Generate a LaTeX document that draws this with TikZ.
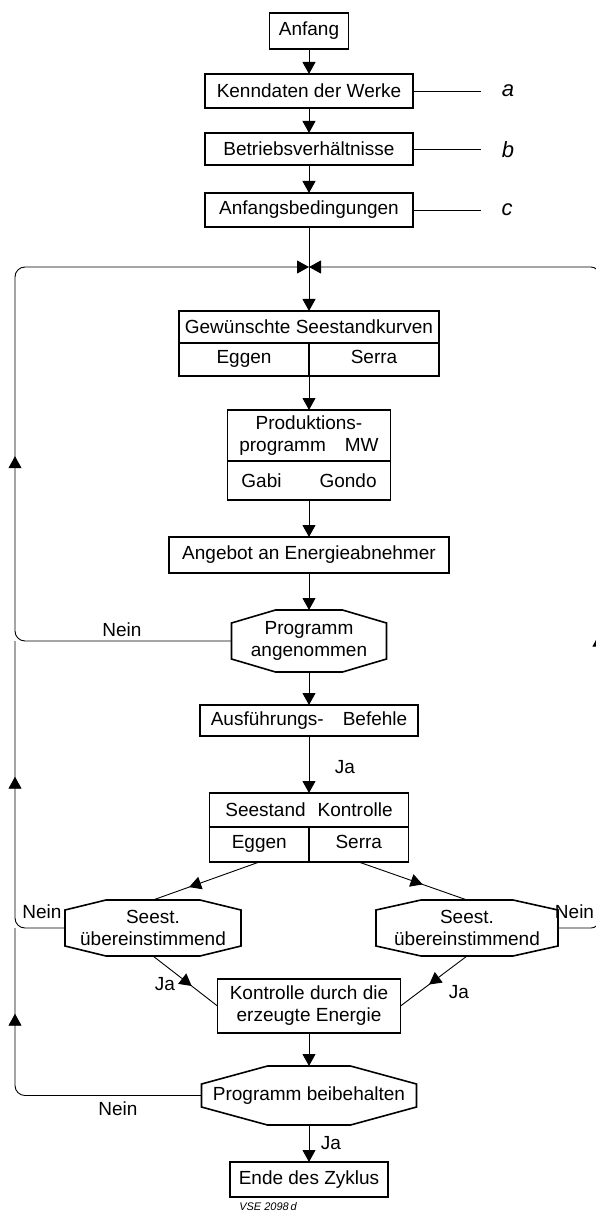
\documentclass[tikz,border=0pt]{standalone}
\usepackage{fontspec}
\setmainfont{Liberation Sans}
\usepackage{tikz}
\usetikzlibrary{arrows.meta}
\usetikzlibrary{positioning}
\usetikzlibrary{decorations.markings}

% outline of a decision node: node, chamfer x, chamfer y
\newcommand{\drawoctagon}[3]{%
  \draw[decisionline]
    ([xshift=#2]#1.north west) -- ([xshift=-#2]#1.north east)
    -- ([yshift=-#3]#1.north east) -- ([yshift=#3]#1.south east)
    -- ([xshift=-#2]#1.south east) -- ([xshift=#2]#1.south west)
    -- ([yshift=#3]#1.south west) -- ([yshift=-#3]#1.north west)
    -- cycle;}

\begin{document}
\begin{tikzpicture}[x=1pt, y=1pt,
      >={Triangle[length=12pt,width=13pt]},
      line width=0.9pt,
      on grid,
      every node/.style={font=\fontsize{19}{22}\selectfont},
      box/.style={draw, line width=1.6pt, inner sep=2pt, outer sep=0pt, align=center},
      decision/.style={inner sep=0pt, outer sep=0pt, align=center},
      decisionline/.style={line width=1.6pt, line join=miter},
      tag/.style={inner sep=0pt, font=\fontsize{22}{24}\selectfont\itshape},
      midarrow/.style={decoration={markings, mark=at position #1 with {\arrow{>}}},
        postaction=decorate}]

    \useasboundingbox (0,0) rectangle (595,-1214);

    \node[box, minimum width=79pt, minimum height=36pt]
      (Anfang) at (309,-31) {Anfang};
    \node[box, minimum width=208pt, minimum height=34pt]
      (Kenndaten) [below=60pt of Anfang] {Kenndaten der Werke};
    \node[box, minimum width=208pt, minimum height=32pt]
      (Betriebs) [below=58pt of Kenndaten] {Betriebsverhältnisse};
    \node[box, minimum width=208pt, minimum height=34pt]
      (Anfangsbed) [below=61pt of Betriebs] {Anfangsbedingungen};

    \node[box, minimum width=260pt, minimum height=32pt]
      (GewTop) [below=117pt of Anfangsbed] {Gewünschte Seestandkurven};
    \node[box, minimum width=130pt, minimum height=33pt, anchor=north east]
      (GewEggen) at (GewTop.south) {\strut Eggen};
    \node[box, minimum width=130pt, minimum height=33pt, anchor=north west]
      (GewSerra) at (GewTop.south) {\strut Serra};

    \node[box, minimum width=163pt, minimum height=51pt]
      (ProdTop) [below=108.5pt of GewTop] {Produktions-\\programm\quad MW};
    \node[box, minimum width=163pt, minimum height=39pt, anchor=north]
      (ProdBot) at (ProdTop.south) {Gabi\qquad Gondo};

    \node[box, minimum width=280pt, minimum height=36pt]
      (Angebot) [below=119.5pt of ProdTop] {Angebot an Energieabnehmer};
    \node[decision, minimum width=155pt, minimum height=62pt]
      (Angenommen) [below=86pt of Angebot] {Programm\\angenommen};
    \node[box, minimum width=218pt, minimum height=31pt]
      (Ausfuehrung) [below=79.5pt of Angenommen] {Ausführungs-\quad Befehle};

    \node[box, minimum width=199pt, minimum height=34pt]
      (SeeTop) [below=89.5pt of Ausfuehrung] {Seestand\hspace{12pt}Kontrolle};
    \node[box, minimum width=99.5pt, minimum height=35pt, anchor=north east]
      (SeeEggen) at (SeeTop.south) {\strut Eggen};
    \node[box, minimum width=99.5pt, minimum height=35pt, anchor=north west]
      (SeeSerra) at (SeeTop.south) {\strut Serra};

    \node[decision, minimum width=176pt, minimum height=56pt]
      (CheckEggen) at (153,-928) {Seest.\\übereinstimmend};
    \node[decision, minimum width=182pt, minimum height=56pt]
      (CheckSerra) at (467,-928) {Seest.\\übereinstimmend};

    \node[box, minimum width=183pt, minimum height=54pt]
      (Energie) [below=196pt of SeeTop] {Kontrolle durch die\\erzeugte Energie};
    \node[decision, minimum width=215pt, minimum height=59pt]
      (Beibehalten) [below=89.5pt of Energie] {Programm beibehalten};
    \node[box, minimum width=158pt, minimum height=35pt]
      (Ende) [below=84pt of Beibehalten] {Ende des Zyklus};

    \drawoctagon{Angenommen}{44pt}{13pt}
    \drawoctagon{CheckEggen}{41pt}{10pt}
    \drawoctagon{CheckSerra}{45pt}{10pt}
    \drawoctagon{Beibehalten}{66pt}{18pt}

    % input data
    \node[tag] (TagA) at (508,-91) {a};
    \node[tag] (TagB) at (508,-150) {b};
    \node[tag] (TagC) at (507,-210) {c};
    \draw[shorten >=20pt] (Kenndaten) -- (Kenndaten -| TagA.west);
    \draw[shorten >=20pt] (Betriebs) -- (Betriebs -| TagB.west);
    \draw[shorten >=20pt] (Anfangsbed) -- (Anfangsbed -| TagC.west);

    \coordinate (Junction) at (309,-267);

    \path[->]
      (Anfang) edge (Kenndaten)
      (Kenndaten) edge (Betriebs)
      (Betriebs) edge (Anfangsbed)
      (Anfangsbed) edge (GewTop)
      (GewEggen.south east) edge (ProdTop)
      (ProdBot) edge (Angebot)
      (Angebot) edge (Angenommen)
      (Angenommen) edge (Ausfuehrung)
      (Ausfuehrung) edge (SeeTop)
      (Energie) edge (Beibehalten)
      (Beibehalten) edge (Ende);

    \draw[midarrow=0.66] (SeeEggen.south) -- (CheckEggen.north);
    \draw[midarrow=0.59] (SeeSerra.south) -- (CheckSerra.north);
    \draw[midarrow=0.6] (CheckEggen.south) -- (Energie.west);
    \draw[midarrow=0.57] (CheckSerra.south) -- (Energie.east);

    % return loops
    \draw[->, rounded corners=10pt, midarrow=397pt]
      (Angenommen.west) -- (15,-641) -- (15,-267) -- (Junction);
    \draw[rounded corners=10pt, midarrow=197pt]
      (CheckEggen.west) -- (15,-928) -- (15,-641);
    \draw[rounded corners=10pt, midarrow=264pt]
      (Beibehalten.west) -- (15,-1095.5) -- (15,-928);
    \draw[->, rounded corners=8pt, midarrow=331pt]
      (CheckSerra.east) -- (599,-928) -- (599,-267) -- (Junction);

    \node (NeinA) at (122,-630) {Nein};
    \node (NeinB) at (42,-912) {Nein};
    \node[inner sep=0pt, anchor=east] (NeinC) at (594.5,-912) {Nein};
    \node (NeinD) at (118,-1109) {Nein};
    \node (JaA) at (345,-767) {Ja};
    \node (JaB) at (165,-984) {Ja};
    \node (JaC) at (459,-992) {Ja};
    \node (JaD) at (331,-1143) {Ja};
    \node[font=\fontsize{11}{13}\selectfont\itshape]
      (Figure) at (268,-1207) {VSE 2098\,d};

  \end{tikzpicture}
\end{document}
